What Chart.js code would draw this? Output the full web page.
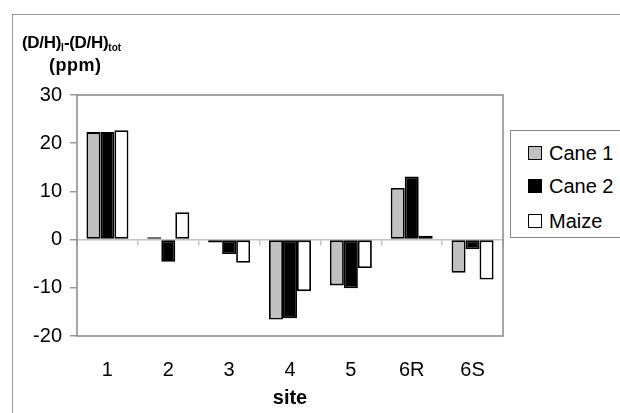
<!DOCTYPE html>
<html>
<head>
<meta charset="utf-8">
<script src="https://cdn.jsdelivr.net/npm/chart.js@4.4.1/dist/chart.umd.min.js"></script>
<style>
  html, body { margin: 0; padding: 0; background: #fff; }
  #wrap { position: relative; width: 620px; height: 413px; overflow: hidden; font-family: "Liberation Sans", Arial, sans-serif; }
  #frame { position: absolute; left: 12px; top: 14px; width: 700px; height: 500px; border: 1px solid #999; }
  canvas { position: absolute; left: 0; top: 0; }
  #ytitle { position: absolute; left: 22px; top: 31px; font-weight: bold; font-size: 17px; color: #000; line-height: 23px; white-space: nowrap; letter-spacing: -0.3px; }
  #ytitle sub { font-size: 10px; vertical-align: -3px; line-height: 0; letter-spacing: 0; }
  #ytitle .l2 { display: block; padding-left: 27px; font-size: 18px; letter-spacing: 0.5px; }
  #legend { position: absolute; left: 510px; top: 130px; width: 130px; height: 106px; border: 1px solid #888; background: #fff; }
  .li { position: absolute; left: 17px; height: 24px; line-height: 24px; font-size: 20px; color: #000; white-space: nowrap; }
  .sw { position: absolute; left: 0; top: 5px; width: 12px; height: 12px; border: 1.5px solid #000; }
  .tx { position: absolute; left: 21px; top: 0; }
</style>
</head>
<body>
<div id="wrap">
  <div id="frame"></div>
  <canvas id="c" width="620" height="413"></canvas>
  <div id="ytitle">(D/H)<sub>I</sub>-(D/H)<sub>tot</sub><span class="l2">(ppm)</span></div>
  <div id="legend"></div>
</div>
<script>
const categories = ["1", "2", "3", "4", "5", "6R", "6S"];
const cane1 = [22.3, 0.5, -0.6, -16.6, -9.5, 10.7, -6.9];
const cane2 = [22.3, -4.6, -3.0, -16.3, -10.1, 13.1, -2.0];
const maize = [22.7, 5.7, -4.8, -10.7, -5.9, 0.8, -8.3];
const seriesNames = ["Cane 1", "Cane 2", "Maize"];
const seriesColors = ["#c0c0c0", "#000000", "#ffffff"];
const yTicks = [-20, -10, 0, 10, 20, 30];

const seriesValues = [cane1, cane2, maize];

const framePlugin = {
  id: 'frame',
  afterDatasetsDraw(chart) {
    const a = chart.chartArea, ctx = chart.ctx;
    ctx.save();
    ctx.strokeStyle = '#888';
    ctx.lineWidth = 1.5;
    ctx.strokeRect(a.left, a.top, a.right - a.left, a.bottom - a.top);
    ctx.restore();
  }
};

new Chart(document.getElementById('c'), {
  type: 'bar',
  data: {
    labels: categories,
    datasets: seriesNames.map((n, i) => ({
      label: n,
      data: seriesValues[i],
      backgroundColor: seriesColors[i],
      borderColor: '#000',
      borderWidth: 1.8,
      borderSkipped: false,
      barPercentage: 1,
      categoryPercentage: 0.69
    }))
  },
  options: {
    responsive: false,
    animation: false,
    devicePixelRatio: 1,
    layout: { padding: { left: 0, right: 117, top: 95, bottom: 0 } },
    plugins: { legend: { display: false }, tooltip: { enabled: false } },
    scales: {
      x: {
        type: 'category',
        position: 'bottom',
        offset: true,
        grid: { display: false },
        border: { display: false },
        ticks: { color: '#000', font: { family: 'Liberation Sans', size: 20 }, padding: 14, maxRotation: 0 },
        title: { display: true, text: 'site', color: '#000', font: { family: 'Liberation Sans', size: 20, weight: 'bold' }, padding: { top: 2, bottom: 3 } },
        afterFit(s) { s.height = 77; }
      },
      x2: {
        type: 'category',
        labels: categories,
        position: { y: 0 },
        offset: true,
        grid: { drawOnChartArea: false, offset: true, tickLength: 5, color: '#c4c4c4', lineWidth: 1.5 },
        border: { display: true, color: '#c4c4c4', width: 1.5 },
        ticks: { display: false }
      },
      y: {
        min: -20,
        max: 30,
        afterBuildTicks(s) { s.ticks = yTicks.map(v => ({ value: v })); },
        grid: { drawOnChartArea: false, tickLength: 7, color: '#999', lineWidth: 1.5 },
        border: { display: false },
        ticks: { color: '#000', font: { family: 'Liberation Sans', size: 20 }, padding: 8 },
        afterFit(s) { s.width = 77; }
      }
    }
  },
  plugins: [framePlugin]
});

const leg = document.getElementById('legend');
const tops = [10, 43, 78];
seriesNames.forEach((n, i) => {
  const d = document.createElement('div');
  d.className = 'li';
  d.style.top = tops[i] + 'px';
  d.innerHTML = '<span class="sw" style="background:' + seriesColors[i] + '"></span><span class="tx">' + n + '</span>';
  leg.appendChild(d);
});
</script>
</body>
</html>
